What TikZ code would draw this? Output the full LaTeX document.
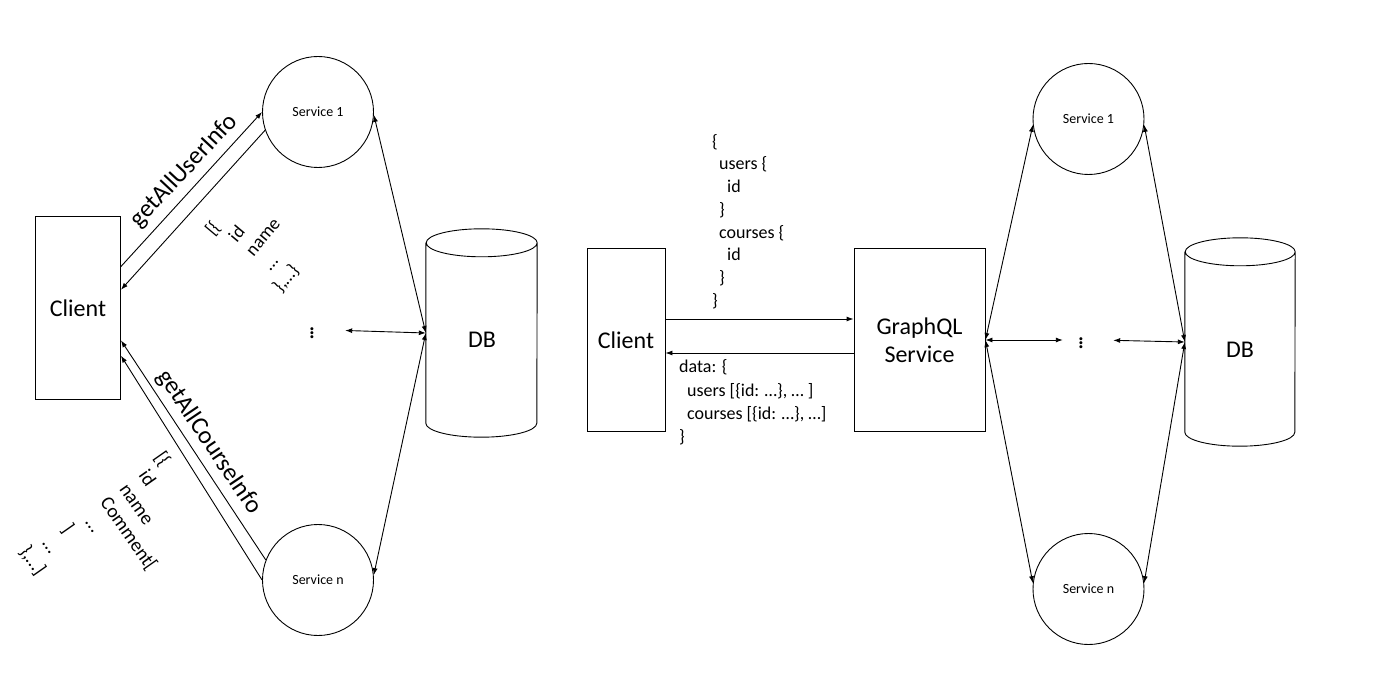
\documentclass[tikz,border=0pt]{standalone}
\usepackage{fontspec}
\setmainfont{Carlito}
\usepackage{tikz}
\usetikzlibrary{arrows.meta}

\begin{document}
\begin{tikzpicture}[x=1pt,y=-1pt,
	box/.style={draw,line width=0.9pt,minimum width=85pt,minimum height=183pt,inner sep=0pt,align=center,font=\fontsize{24}{28}\selectfont},
	serv/.style={draw,circle,line width=0.9pt,minimum size=111pt,inner sep=0pt,font=\fontsize{14}{17}\selectfont},
	dbbody/.style={minimum width=111pt,minimum height=180pt,inner sep=0pt},
	dbtext/.style={inner sep=0pt,font=\fontsize{24}{28}\selectfont},
	codetext/.style={align=left,inner sep=0pt,anchor=north west},
	lbl/.style={inner sep=0pt,font=\fontsize{25}{30}\selectfont},
	vdot/.style={minimum width=36pt,inner sep=0pt,font=\fontsize{25}{30}\selectfont},
	arrone/.style={line width=0.9pt,-{Latex[length=7pt,width=5pt]}},
	arrtwo/.style={line width=0.9pt,{Latex[length=7pt,width=5pt]}-{Latex[length=7pt,width=5pt]}}]
	\useasboundingbox (0,0) rectangle (1376,684);
		% separate services
		\node[box] (C0) at (78,308) {Client};
		\node[serv] (S1) at (318,112) {Service 1};
		\node[serv] (Sn) at (318,580) {Service n};
		\node[dbbody] (DB0) at (481.5,333) {};
		\draw[line width=0.9pt] (DB0.north west) -- (DB0.south west)
				arc[start angle=180,end angle=360,x radius=55.5pt,y radius=14pt] -- (DB0.north east)
				arc[start angle=0,end angle=360,x radius=55.5pt,y radius=14pt];
		\node[dbtext] (DB0t) at (482,340) {DB};
		\node[vdot] (D0) at (312,330) {$\vdots$};
		\draw[arrone] (C0.44) to (S1.west);
		\draw[arrone] (S1.199) to (C0.23);
		\draw[arrone] (Sn.159) to (C0.-37);
		\draw[arrone] (Sn.west) to (C0.-48);
		\draw[arrtwo] (S1.-3) to (DB0.west);
		\draw[arrtwo] (Sn.5) to (DB0.west);
		\draw[arrtwo,shorten <=15pt] (D0.east) to (DB0.west);
		\node[lbl,rotate=47] (L1) at (184,171) {getAllUserInfo};
		\node[lbl,rotate=-56] (Ln) at (209,442) {getAllCourseInfo};
		\node[codetext,rotate=50,font=\fontsize{18.5}{22}\selectfont] (R1) at (203,228)
				{[\{\\\hspace*{10pt}id\\\hspace*{10pt}name\\\hspace*{10pt}…\\\},…\}};
		\node[codetext,rotate=-55,font=\fontsize{19.5}{23.5}\selectfont] (Rn) at (165.5,449)
				{[\{\\\hspace*{6pt}id\\\hspace*{6pt}name\\\hspace*{6pt}Comment[\\\hspace*{14pt}…\\\hspace*{6pt}]\\\hspace*{6pt}…\\\},…]};
		% graphql service
		\node[box,minimum width=78pt] (C1) at (626,340) {Client};
		\node[box,minimum width=131pt] (G1) at (919.5,340) {GraphQL\\Service};
		\node[serv] (T1) at (1088.5,119) {Service 1};
		\node[serv] (Tn) at (1088.5,589) {Service n};
		\node[dbbody,minimum width=110pt] (DB1) at (1240,342) {};
		\draw[line width=0.9pt] (DB1.north west) -- (DB1.south west)
				arc[start angle=180,end angle=360,x radius=55pt,y radius=14pt] -- (DB1.north east)
				arc[start angle=0,end angle=360,x radius=55pt,y radius=14pt];
		\node[dbtext] (DB1t) at (1240,350) {DB};
		\node[vdot] (D1) at (1081,340) {$\vdots$};
		\node[codetext,font=\fontsize{18}{22.7}\selectfont] (Q1) at (712,134)
				{\{\\\hspace*{7pt}users \{\\\hspace*{15pt}id\\\hspace*{7pt}\}\\\hspace*{7pt}courses \{\\\hspace*{15pt}id\\\hspace*{7pt}\}\\\}};
		\node[codetext,font=\fontsize{18}{23.3}\selectfont] (A1) at (679,359.5)
				{data: \{\\\hspace*{8pt}users [\{id: …\}, … ]\\\hspace*{8pt}courses [\{id: …\}, …]\\\}};
		\draw[arrone] ([yshift=21pt]C1.east) to ([yshift=21pt]G1.west);
		\draw[arrone] ([yshift=-13pt]G1.west) to ([yshift=-13pt]C1.east);
		\draw[arrtwo] (G1.east) to (D1.west);
		\draw[arrtwo,shorten <=14pt] (D1.east) to (DB1.west);
		\draw[arrtwo] (G1.east) to (T1.186);
		\draw[arrtwo] (G1.east) to (Tn.174);
		\draw[arrtwo] (T1.-6) to (DB1.west);
		\draw[arrtwo] (Tn.6) to (DB1.west);
\end{tikzpicture}
\end{document}
